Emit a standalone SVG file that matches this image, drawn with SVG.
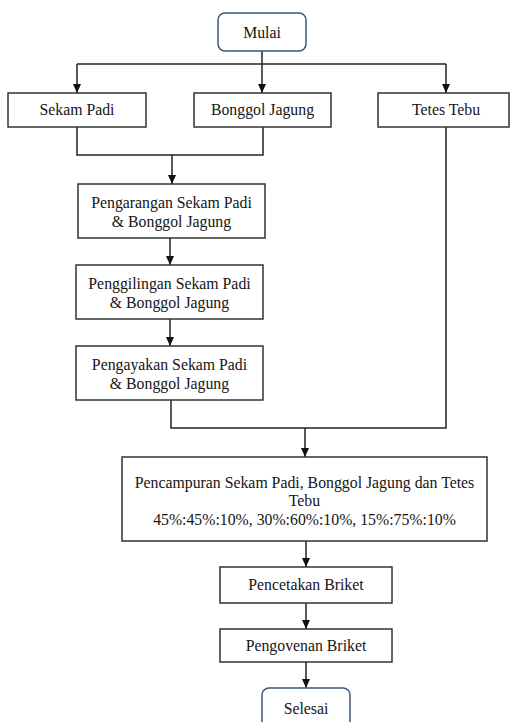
<svg xmlns="http://www.w3.org/2000/svg" width="510" height="722" viewBox="0 0 510 722">
<defs>
<marker id="ah" markerWidth="9" markerHeight="8" refX="9" refY="4" orient="auto" markerUnits="userSpaceOnUse" viewBox="0 0 9 8">
<path d="M0,0 L9,4 L0,8 Z" fill="#111"/>
</marker>
<style>
.box{fill:#fff;stroke:#333;stroke-width:1.5}
.term{fill:#fff;stroke:#3d5675;stroke-width:1.5}
.t{font-family:"Liberation Serif","Times New Roman",serif;font-size:15.8px;fill:#151515;text-anchor:middle}
.c{fill:none;stroke:#222;stroke-width:1.5}
</style>
</defs>
<rect width="510" height="722" fill="#fff"/>
<g id="connectors">
<path class="c" d="M262,51 V93" marker-end="url(#ah)"/>
<path class="c" d="M77,64 H446"/>
<path class="c" d="M77,64 V93" marker-end="url(#ah)"/>
<path class="c" d="M446,64 V93" marker-end="url(#ah)"/>
<path class="c" d="M77,127 V155 H263 V127"/>
<path class="c" d="M172,155 V184" marker-end="url(#ah)"/>
<path class="c" d="M170,238 V265" marker-end="url(#ah)"/>
<path class="c" d="M170,319 V346" marker-end="url(#ah)"/>
<path class="c" d="M171,400 V428 H446 V127"/>
<path class="c" d="M305,428 V457" marker-end="url(#ah)"/>
<path class="c" d="M306,541 V567" marker-end="url(#ah)"/>
<path class="c" d="M306,603 V629" marker-end="url(#ah)"/>
<path class="c" d="M306,662 V688" marker-end="url(#ah)"/>
</g>
<g id="mulai">
<rect class="term" x="218" y="13" width="88" height="38" rx="7"/>
<text class="t" x="262" y="38">Mulai</text>
</g>
<g id="sekam-padi">
<rect class="box" x="8" y="93" width="138" height="34"/>
<text class="t" x="77" y="115">Sekam Padi</text>
</g>
<g id="bonggol-jagung">
<rect class="box" x="194" y="93" width="137" height="34"/>
<text class="t" x="262.5" y="115">Bonggol Jagung</text>
</g>
<g id="tetes-tebu">
<rect class="box" x="378" y="93" width="131" height="34"/>
<text class="t" x="446" y="115">Tetes Tebu</text>
</g>
<g id="pengarangan">
<rect class="box" x="78" y="184" width="187" height="54"/>
<text class="t" x="171.5" y="208">Pengarangan Sekam Padi</text>
<text class="t" x="171.5" y="227">&amp; Bonggol Jagung</text>
</g>
<g id="penggilingan">
<rect class="box" x="76" y="265" width="187" height="54"/>
<text class="t" x="169.5" y="289">Penggilingan Sekam Padi</text>
<text class="t" x="169.5" y="308">&amp; Bonggol Jagung</text>
</g>
<g id="pengayakan">
<rect class="box" x="76" y="346" width="187" height="54"/>
<text class="t" x="169.5" y="370">Pengayakan Sekam Padi</text>
<text class="t" x="169.5" y="389">&amp; Bonggol Jagung</text>
</g>
<g id="pencampuran">
<rect class="box" x="122" y="457" width="365" height="84"/>
<text class="t" x="304.5" y="488">Pencampuran Sekam Padi, Bonggol Jagung dan Tetes</text>
<text class="t" x="304.5" y="506">Tebu</text>
<text class="t" x="304.5" y="525">45%:45%:10%, 30%:60%:10%, 15%:75%:10%</text>
</g>
<g id="pencetakan">
<rect class="box" x="220" y="567" width="172" height="36"/>
<text class="t" x="306" y="590">Pencetakan Briket</text>
</g>
<g id="pengovenan">
<rect class="box" x="220" y="629" width="172" height="33"/>
<text class="t" x="306" y="651">Pengovenan Briket</text>
</g>
<g id="selesai">
<rect class="term" x="262" y="688" width="88" height="50" rx="7"/>
<text class="t" x="306" y="714">Selesai</text>
</g>
</svg>
